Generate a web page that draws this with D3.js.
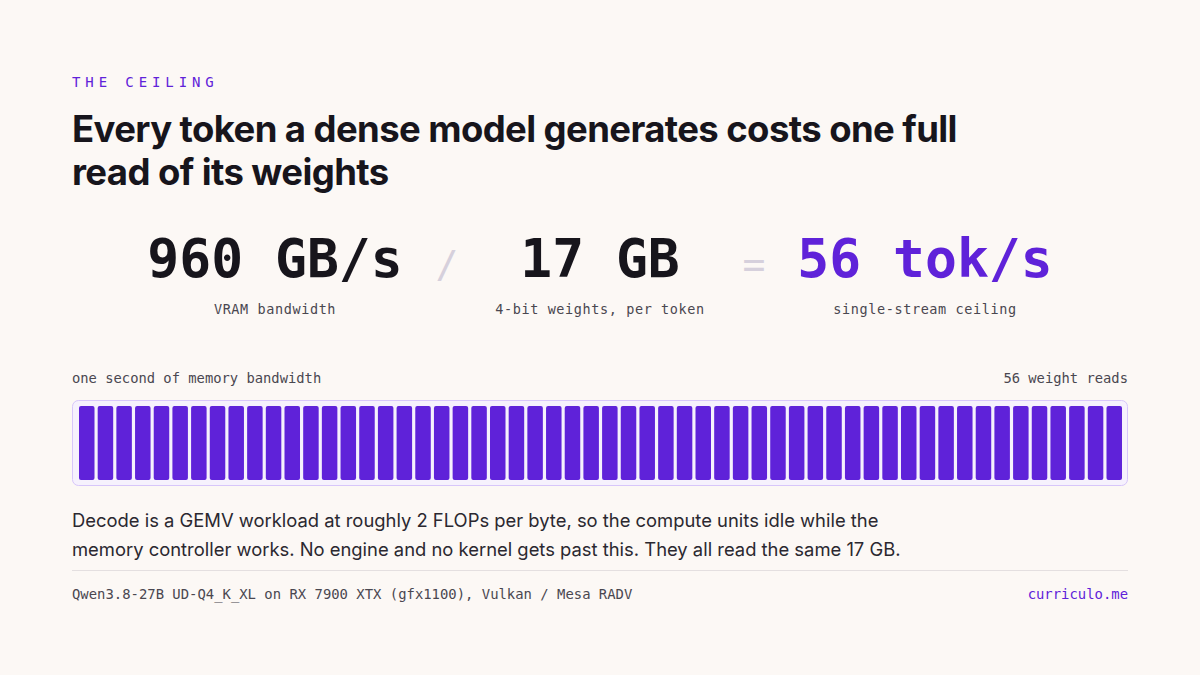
<!DOCTYPE html>
<html>
<head>
<meta charset="utf-8">
<script src="https://cdn.jsdelivr.net/npm/d3@7"></script>
<style>
  body { margin: 0; background: #fcf8f5; }
  svg { display: block; }
</style>
</head>
<body>
<svg id="chart" width="1200" height="675"></svg>
<script>
// Data
const bandwidthGBs = 960;
const weightsGB = 17;
const tokPerSec = 56;
const statValues = ["960 GB/s", "17 GB", "56 tok/s"];
const statLabels = ["VRAM bandwidth", "4-bit weights, per token", "single-stream ceiling"];
const operators = ["/", "="];
const reads = d3.range(tokPerSec); // one bar per weight read

const mono = "'DejaVu Sans Mono', 'Liberation Mono', monospace";
const sans = "Inter, 'Noto Sans', sans-serif";
const purple = "#5f22d9";

const svg = d3.select("#chart");
svg.append("rect").attr("width", 1200).attr("height", 675).attr("fill", "#fcf8f5");

// Kicker and title
svg.append("text").attr("x", 72).attr("y", 87)
  .style("font-family", mono).style("font-size", "14px").style("letter-spacing", "4.9px")
  .attr("fill", purple).text("THE CEILING");

["Every token a dense model generates costs one full", "read of its weights"].forEach((t, i) => {
  svg.append("text").attr("x", 72).attr("y", 142 + i * 43)
    .style("font-family", sans).style("font-size", "36.5px").style("font-weight", 700)
    .style("letter-spacing", "-0.6px").attr("fill", "#17151c").text(t);
});

// Equation row
const statX = [275, 600, 925];
statValues.forEach((v, i) => {
  svg.append("text").attr("x", statX[i]).attr("y", 277).attr("text-anchor", "middle")
    .style("font-family", mono).style("font-size", "53px").style("font-weight", 700)
    .attr("fill", i === 2 ? purple : "#17151c").text(v);
  svg.append("text").attr("x", statX[i]).attr("y", 314).attr("text-anchor", "middle")
    .style("font-family", mono).style("font-size", "13.5px").style("letter-spacing", "0.6px")
    .attr("fill", "#4a4750").text(statLabels[i]);
});
[447, 754].forEach((x, i) => {
  svg.append("text").attr("x", x).attr("y", 277).attr("text-anchor", "middle")
    .style("font-family", mono).style("font-size", "38px").attr("fill", "#d6d0dc").text(operators[i]);
});

// Bar strip
svg.append("text").attr("x", 72).attr("y", 383)
  .style("font-family", mono).style("font-size", "13.8px").attr("fill", "#4a4750")
  .text("one second of memory bandwidth");
svg.append("text").attr("x", 1128).attr("y", 383).attr("text-anchor", "end")
  .style("font-family", mono).style("font-size", "13.8px").attr("fill", "#4a4750")
  .text(tokPerSec + " weight reads");

svg.append("rect").attr("x", 72.5).attr("y", 400.5).attr("width", 1055).attr("height", 85)
  .attr("rx", 6).attr("fill", "#f6f1fd").attr("stroke", "#d7c6fa");

const x = d3.scaleBand().domain(reads).range([79, 1122]).paddingInner(0.17);
svg.selectAll(".read").data(reads).enter().append("rect")
  .attr("class", "read")
  .attr("x", d => x(d)).attr("y", 406)
  .attr("width", x.bandwidth()).attr("height", 74)
  .attr("rx", 2).attr("fill", purple);

// Body text
const body = [
  "Decode is a GEMV workload at roughly 2 FLOPs per byte, so the compute units idle while the",
  "memory controller works. No engine and no kernel gets past this. They all read the same 17 GB."
];
body.forEach((t, i) => {
  svg.append("text").attr("x", 72).attr("y", 527 + i * 29)
    .style("font-family", sans).style("font-size", "18.4px").attr("fill", "#2b2830").text(t);
});

svg.append("line").attr("x1", 72).attr("x2", 1128).attr("y1", 570.5).attr("y2", 570.5)
  .attr("stroke", "#e4dfe0");

svg.append("text").attr("x", 72).attr("y", 599)
  .style("font-family", mono).style("font-size", "13.9px").attr("fill", "#4a4750")
  .text("Qwen3.8-27B UD-Q4_K_XL on RX 7900 XTX (gfx1100), Vulkan / Mesa RADV");
svg.append("text").attr("x", 1128).attr("y", 599).attr("text-anchor", "end")
  .style("font-family", mono).style("font-size", "13.9px").attr("fill", purple)
  .text("curriculo.me");
</script>
</body>
</html>
